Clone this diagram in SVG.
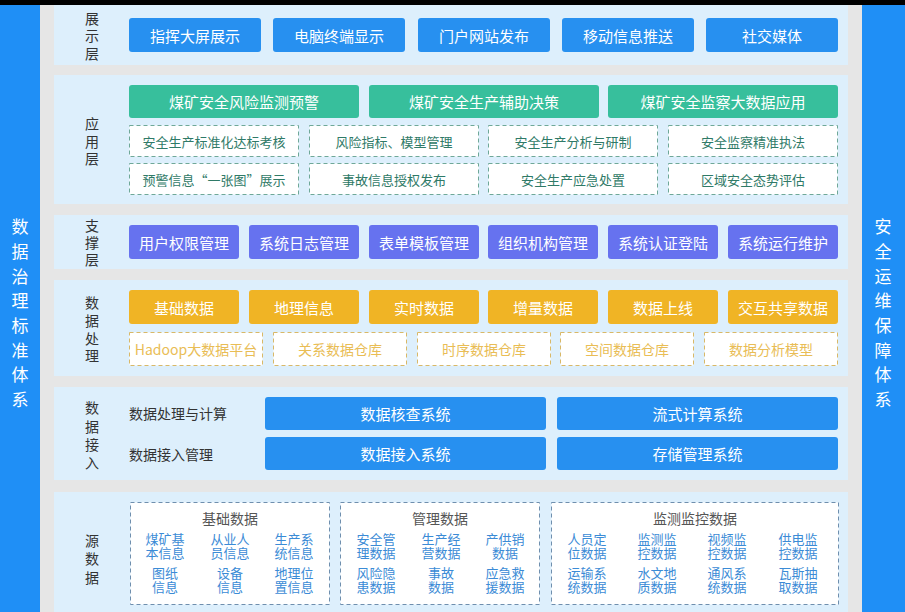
<svg xmlns="http://www.w3.org/2000/svg" width="905" height="612" viewBox="0 0 905 612">
<style>
text{font-family:"Noto Sans CJK SC","Noto Sans",sans-serif;text-anchor:middle;dominant-baseline:central}
.side{fill:#1f8ff6}
.sidet{fill:#fff;font-size:17px}
.panel{fill:#ddeffc}
.lbl{fill:#333;font-size:14px}
.bb{fill:#2790f0}
.gb{fill:#37bf9c}
.pb{fill:#6672ef}
.ob{fill:#f0b425}
.wt{fill:#fff;font-size:15px}
.gd{fill:#fff;stroke:#6fa898;stroke-width:1;stroke-dasharray:4 3}
.gdt{fill:#2f7a67;font-size:13px}
.od{fill:#fff;stroke:#d9b867;stroke-width:1;stroke-dasharray:4 3}
.odt{fill:#e9bd55;font-size:14px}
.sd{fill:#fff;stroke:#6f8fae;stroke-width:1;stroke-dasharray:4 3}
.sdh{fill:#555;font-size:14px}
.sdi{fill:#3b8bd6;font-size:13px}
.al{fill:#333;font-size:14px;text-anchor:start}
</style>
<rect x="0" y="0" width="905" height="612" fill="#e6e6e6"/>
<rect x="0" y="0" width="905" height="5" fill="#000"/>

<g id="left-bar">
<rect class="side" x="0" y="5" width="40" height="607"/>
<text class="sidet"><tspan x="20" y="225">数</tspan><tspan x="20" y="250">据</tspan><tspan x="20" y="274.5">治</tspan><tspan x="20" y="299">理</tspan><tspan x="20" y="324">标</tspan><tspan x="20" y="349">准</tspan><tspan x="20" y="373">体</tspan><tspan x="20" y="398">系</tspan></text>
</g>
<g id="right-bar">
<rect class="side" x="862" y="5" width="43" height="607"/>
<text class="sidet"><tspan x="883" y="225">安</tspan><tspan x="883" y="250">全</tspan><tspan x="883" y="274.5">运</tspan><tspan x="883" y="299">维</tspan><tspan x="883" y="324">保</tspan><tspan x="883" y="349">障</tspan><tspan x="883" y="373">体</tspan><tspan x="883" y="398">系</tspan></text>
</g>

<g id="layer-display">
<rect class="panel" x="54" y="5" width="794" height="60"/>
<text class="lbl"><tspan x="92" y="17.5">展</tspan><tspan x="92" y="35">示</tspan><tspan x="92" y="52.5">层</tspan></text>
<g id="d1"><rect class="bb" x="129" y="18" width="132" height="34" rx="3"/><text class="wt" x="195" y="35">指挥大屏展示</text></g>
<g id="d2"><rect class="bb" x="273" y="18" width="132" height="34" rx="3"/><text class="wt" x="339" y="35">电脑终端显示</text></g>
<g id="d3"><rect class="bb" x="418" y="18" width="132" height="34" rx="3"/><text class="wt" x="484" y="35">门户网站发布</text></g>
<g id="d4"><rect class="bb" x="562" y="18" width="132" height="34" rx="3"/><text class="wt" x="628" y="35">移动信息推送</text></g>
<g id="d5"><rect class="bb" x="706" y="18" width="132" height="34" rx="3"/><text class="wt" x="772" y="35">社交媒体</text></g>
</g>

<g id="layer-app">
<rect class="panel" x="54" y="75" width="794" height="129"/>
<text class="lbl"><tspan x="92" y="123">应</tspan><tspan x="92" y="140.5">用</tspan><tspan x="92" y="158">层</tspan></text>
<g id="a1"><rect class="gb" x="129" y="85" width="230" height="33" rx="3"/><text class="wt" x="244" y="101.5">煤矿安全风险监测预警</text></g>
<g id="a2"><rect class="gb" x="369" y="85" width="230" height="33" rx="3"/><text class="wt" x="484" y="101.5">煤矿安全生产辅助决策</text></g>
<g id="a3"><rect class="gb" x="608" y="85" width="230" height="33" rx="3"/><text class="wt" x="723" y="101.5">煤矿安全监察大数据应用</text></g>
<g id="a4"><rect class="gd" x="129.5" y="125.5" width="169" height="31"/><text class="gdt" x="214" y="141">安全生产标准化达标考核</text></g>
<g id="a5"><rect class="gd" x="309.5" y="125.5" width="169" height="31"/><text class="gdt" x="394" y="141">风险指标、模型管理</text></g>
<g id="a6"><rect class="gd" x="488.5" y="125.5" width="169" height="31"/><text class="gdt" x="573" y="141">安全生产分析与研制</text></g>
<g id="a7"><rect class="gd" x="668.5" y="125.5" width="169" height="31"/><text class="gdt" x="753" y="141">安全监察精准执法</text></g>
<g id="a8"><rect class="gd" x="129.5" y="163.5" width="169" height="31"/><text class="gdt" x="214" y="179">预警信息“一张图”展示</text></g>
<g id="a9"><rect class="gd" x="309.5" y="163.5" width="169" height="31"/><text class="gdt" x="394" y="179">事故信息授权发布</text></g>
<g id="a10"><rect class="gd" x="488.5" y="163.5" width="169" height="31"/><text class="gdt" x="573" y="179">安全生产应急处置</text></g>
<g id="a11"><rect class="gd" x="668.5" y="163.5" width="169" height="31"/><text class="gdt" x="753" y="179">区域安全态势评估</text></g>
</g>

<g id="layer-support">
<rect class="panel" x="54" y="215" width="794" height="54"/>
<text class="lbl"><tspan x="92" y="225">支</tspan><tspan x="92" y="242">撑</tspan><tspan x="92" y="259">层</tspan></text>
<g id="s1"><rect class="pb" x="129" y="225" width="110" height="34" rx="3"/><text class="wt" x="184" y="242">用户权限管理</text></g>
<g id="s2"><rect class="pb" x="249" y="225" width="110" height="34" rx="3"/><text class="wt" x="304" y="242">系统日志管理</text></g>
<g id="s3"><rect class="pb" x="369" y="225" width="110" height="34" rx="3"/><text class="wt" x="424" y="242">表单模板管理</text></g>
<g id="s4"><rect class="pb" x="488" y="225" width="110" height="34" rx="3"/><text class="wt" x="543" y="242">组织机构管理</text></g>
<g id="s5"><rect class="pb" x="608" y="225" width="110" height="34" rx="3"/><text class="wt" x="663" y="242">系统认证登陆</text></g>
<g id="s6"><rect class="pb" x="728" y="225" width="110" height="34" rx="3"/><text class="wt" x="783" y="242">系统运行维护</text></g>
</g>

<g id="layer-process">
<rect class="panel" x="54" y="280" width="794" height="96"/>
<text class="lbl"><tspan x="92" y="302">数</tspan><tspan x="92" y="320">据</tspan><tspan x="92" y="338">处</tspan><tspan x="92" y="355">理</tspan></text>
<g id="p1"><rect class="ob" x="129" y="290" width="110" height="34" rx="3"/><text class="wt" x="184" y="307">基础数据</text></g>
<g id="p2"><rect class="ob" x="249" y="290" width="110" height="34" rx="3"/><text class="wt" x="304" y="307">地理信息</text></g>
<g id="p3"><rect class="ob" x="369" y="290" width="110" height="34" rx="3"/><text class="wt" x="424" y="307">实时数据</text></g>
<g id="p4"><rect class="ob" x="488" y="290" width="110" height="34" rx="3"/><text class="wt" x="543" y="307">增量数据</text></g>
<g id="p5"><rect class="ob" x="608" y="290" width="110" height="34" rx="3"/><text class="wt" x="663" y="307">数据上线</text></g>
<g id="p6"><rect class="ob" x="728" y="290" width="110" height="34" rx="3"/><text class="wt" x="783" y="307">交互共享数据</text></g>
<g id="p7"><rect class="od" x="129.5" y="332.5" width="133" height="33"/><text class="odt" x="196" y="349">Hadoop大数据平台</text></g>
<g id="p8"><rect class="od" x="273.5" y="332.5" width="133" height="33"/><text class="odt" x="340" y="349">关系数据仓库</text></g>
<g id="p9"><rect class="od" x="417.5" y="332.5" width="133" height="33"/><text class="odt" x="484" y="349">时序数据仓库</text></g>
<g id="p10"><rect class="od" x="560.5" y="332.5" width="133" height="33"/><text class="odt" x="627" y="349">空间数据仓库</text></g>
<g id="p11"><rect class="od" x="704.5" y="332.5" width="133" height="33"/><text class="odt" x="771" y="349">数据分析模型</text></g>
</g>

<g id="layer-access">
<rect class="panel" x="54" y="387" width="794" height="93"/>
<text class="lbl"><tspan x="92" y="407">数</tspan><tspan x="92" y="426">据</tspan><tspan x="92" y="444">接</tspan><tspan x="92" y="462">入</tspan></text>
<text class="al" x="129" y="413">数据处理与计算</text>
<text class="al" x="129" y="454">数据接入管理</text>
<g id="c1"><rect class="bb" x="265" y="397" width="281" height="33" rx="3"/><text class="wt" x="405.5" y="413.5">数据核查系统</text></g>
<g id="c2"><rect class="bb" x="557" y="397" width="281" height="33" rx="3"/><text class="wt" x="697.5" y="413.5">流式计算系统</text></g>
<g id="c3"><rect class="bb" x="265" y="437" width="281" height="33" rx="3"/><text class="wt" x="405.5" y="453.5">数据接入系统</text></g>
<g id="c4"><rect class="bb" x="557" y="437" width="281" height="33" rx="3"/><text class="wt" x="697.5" y="453.5">存储管理系统</text></g>
</g>

<g id="layer-source">
<rect class="panel" x="54" y="492" width="794" height="120"/>
<text class="lbl"><tspan x="92" y="540">源</tspan><tspan x="92" y="558">数</tspan><tspan x="92" y="576.5">据</tspan></text>
<g id="src-base">
<rect class="sd" x="130.5" y="502.5" width="199" height="102"/>
<text class="sdh" x="230" y="518">基础数据</text>
<text class="sdi"><tspan x="165" y="538">煤矿基</tspan><tspan x="165" y="552">本信息</tspan></text>
<text class="sdi"><tspan x="230" y="538">从业人</tspan><tspan x="230" y="552">员信息</tspan></text>
<text class="sdi"><tspan x="294" y="538">生产系</tspan><tspan x="294" y="552">统信息</tspan></text>
<text class="sdi"><tspan x="165" y="572">图纸</tspan><tspan x="165" y="586">信息</tspan></text>
<text class="sdi"><tspan x="230" y="572">设备</tspan><tspan x="230" y="586">信息</tspan></text>
<text class="sdi"><tspan x="294" y="572">地理位</tspan><tspan x="294" y="586">置信息</tspan></text>
</g>
<g id="src-manage">
<rect class="sd" x="340.5" y="502.5" width="199" height="102"/>
<text class="sdh" x="440" y="518">管理数据</text>
<text class="sdi"><tspan x="376" y="538">安全管</tspan><tspan x="376" y="552">理数据</tspan></text>
<text class="sdi"><tspan x="441" y="538">生产经</tspan><tspan x="441" y="552">营数据</tspan></text>
<text class="sdi"><tspan x="505" y="538">产供销</tspan><tspan x="505" y="552">数据</tspan></text>
<text class="sdi"><tspan x="376" y="572">风险隐</tspan><tspan x="376" y="586">患数据</tspan></text>
<text class="sdi"><tspan x="441" y="572">事故</tspan><tspan x="441" y="586">数据</tspan></text>
<text class="sdi"><tspan x="505" y="572">应急救</tspan><tspan x="505" y="586">援数据</tspan></text>
</g>
<g id="src-monitor">
<rect class="sd" x="551.5" y="502.5" width="287" height="102"/>
<text class="sdh" x="695" y="518">监测监控数据</text>
<text class="sdi"><tspan x="587" y="538">人员定</tspan><tspan x="587" y="552">位数据</tspan></text>
<text class="sdi"><tspan x="657" y="538">监测监</tspan><tspan x="657" y="552">控数据</tspan></text>
<text class="sdi"><tspan x="727" y="538">视频监</tspan><tspan x="727" y="552">控数据</tspan></text>
<text class="sdi"><tspan x="798" y="538">供电监</tspan><tspan x="798" y="552">控数据</tspan></text>
<text class="sdi"><tspan x="587" y="572">运输系</tspan><tspan x="587" y="586">统数据</tspan></text>
<text class="sdi"><tspan x="657" y="572">水文地</tspan><tspan x="657" y="586">质数据</tspan></text>
<text class="sdi"><tspan x="727" y="572">通风系</tspan><tspan x="727" y="586">统数据</tspan></text>
<text class="sdi"><tspan x="798" y="572">瓦斯抽</tspan><tspan x="798" y="586">取数据</tspan></text>
</g>
</g>
<g id="connectors"/>
</svg>
